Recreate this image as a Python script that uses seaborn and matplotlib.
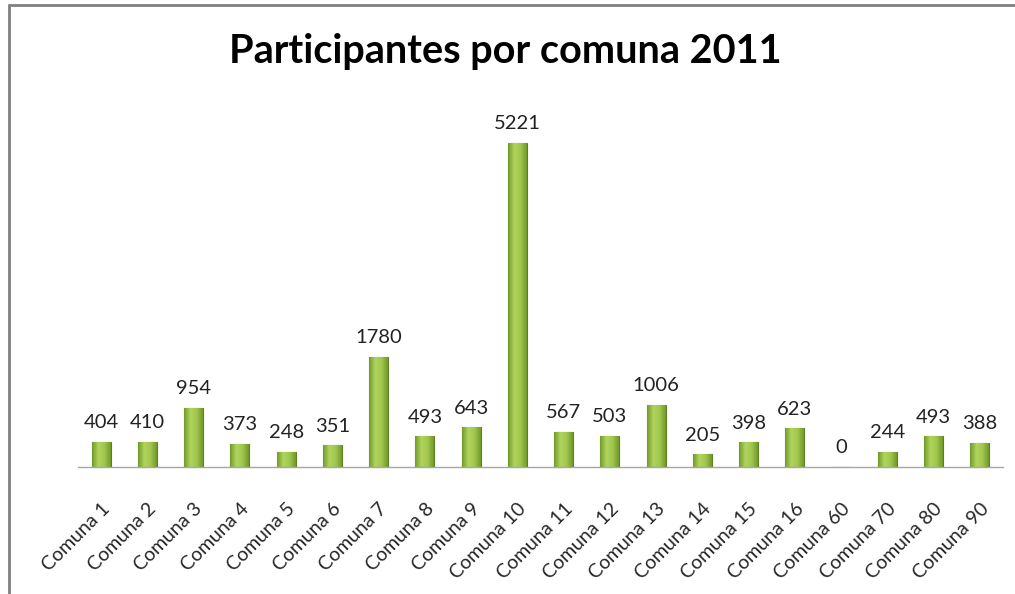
import numpy as np
import pandas as pd
import matplotlib
matplotlib.use("Agg")
import matplotlib.pyplot as plt
from matplotlib.colors import LinearSegmentedColormap
from matplotlib.lines import Line2D
import seaborn as sns

# datos
comunas = ['Comuna 1', 'Comuna 2', 'Comuna 3', 'Comuna 4', 'Comuna 5', 'Comuna 6',
           'Comuna 7', 'Comuna 8', 'Comuna 9', 'Comuna 10', 'Comuna 11', 'Comuna 12',
           'Comuna 13', 'Comuna 14', 'Comuna 15', 'Comuna 16', 'Comuna 60', 'Comuna 70',
           'Comuna 80', 'Comuna 90']
participantes = [404, 410, 954, 373, 248, 351, 1780, 493, 643, 5221, 567, 503,
                 1006, 205, 398, 623, 0, 244, 493, 388]
titulo = 'Participantes por comuna 2011'

df = pd.DataFrame({'comuna': comunas, 'participantes': participantes})

sns.set_theme(style='white')
plt.rcParams['font.family'] = ['Lato', 'DejaVu Sans']

fig = plt.figure(figsize=(10.15, 5.94), dpi=100)
ax = fig.add_axes([78 / 1015, 127 / 594, 925 / 1015, 367 / 594])

sns.barplot(data=df, x='comuna', y='participantes', color='#93BA40',
            width=0.41, edgecolor='#5F7F22', linewidth=0.8, saturation=1, ax=ax)

# degradado horizontal dentro de cada barra
verde = LinearSegmentedColormap.from_list('verde', ['#729A2A', '#B0D45E', '#A2C74E', '#729A2A'])
grad = np.linspace(0, 1, 64).reshape(1, -1)
for p in ax.patches:
    x0, y0 = p.get_x(), p.get_y()
    w, h = p.get_width(), p.get_height()
    if h <= 0:
        continue
    im = ax.imshow(grad, cmap=verde, aspect='auto', extent=(x0, x0 + w, y0, y0 + h),
                   zorder=p.get_zorder() + 0.1)
    im.set_clip_path(p)

for i, v in enumerate(participantes):
    ax.text(i, v + 170, str(v), ha='center', va='bottom', fontsize=14.5, color='#222222')

ax.set_xlim(-0.5, len(comunas) - 0.5)
ax.set_ylim(0, 5914)
ax.set_xlabel('')
ax.set_ylabel('')
ax.set_yticks([])
ax.set_xticks(range(len(comunas)))
ax.set_xticklabels(comunas, rotation=45, ha='right', rotation_mode='anchor', fontsize=14)
ax.tick_params(axis='x', length=0, pad=24)
for lado in ['top', 'right', 'left']:
    ax.spines[lado].set_visible(False)
ax.spines['bottom'].set_color('#A6A6A6')
ax.spines['bottom'].set_linewidth(1)

fig.suptitle(titulo, x=505 / 1015, y=1 - 52 / 594, va='center',
             fontsize=28.5, fontweight='bold', color='black')

# marco del area del grafico (solo borde superior e izquierdo visibles)
fig.add_artist(Line2D([9 / 1015, 1], [1 - 5 / 594, 1 - 5 / 594], color='#808080', lw=2))
fig.add_artist(Line2D([9 / 1015, 9 / 1015], [0, 1 - 5 / 594], color='#808080', lw=2))

fig.savefig('out.png', dpi=100)
